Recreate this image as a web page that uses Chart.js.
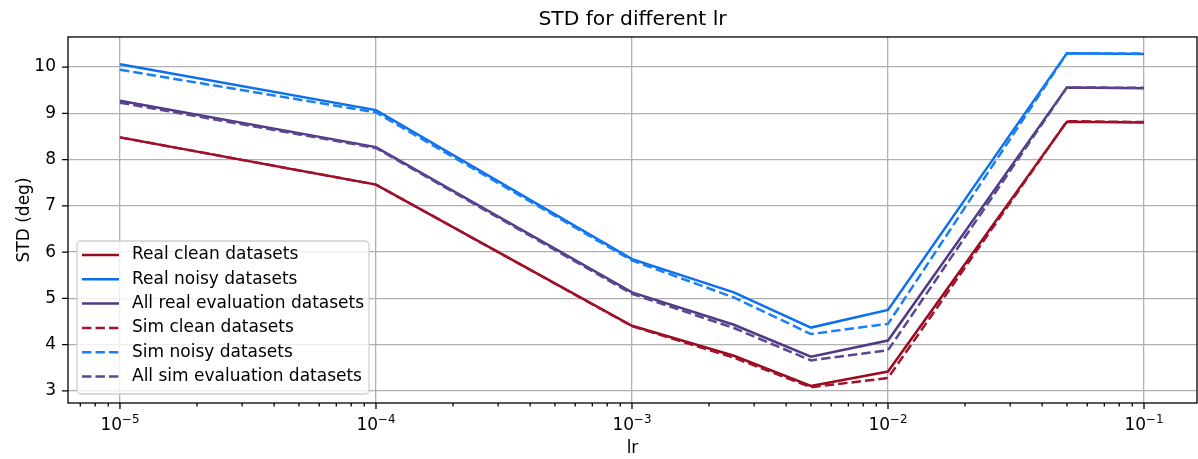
<!DOCTYPE html>
<html><head><meta charset="utf-8">
<script src="https://cdn.jsdelivr.net/npm/chart.js@4.4.1/dist/chart.umd.min.js"></script>
<style>html,body{margin:0;padding:0;background:#fff}#wrap{width:1198px;height:459px}</style>
</head><body><div id="wrap"><canvas id="c"></canvas></div>
<script>
// learning rates and STD values
const lr = [1e-5, 1e-4, 1e-3, 2.5e-3, 5e-3, 1e-2, 5e-2, 1e-1];
const realClean = [8.48, 7.46, 4.41, 3.76, 3.11, 3.42, 8.82, 8.80];
const realNoisy = [10.06, 9.07, 5.85, 5.13, 4.37, 4.75, 10.30, 10.28];
const realAll   = [9.27, 8.27, 5.13, 4.43, 3.74, 4.09, 9.56, 9.54];
const simClean  = [8.48, 7.46, 4.40, 3.72, 3.08, 3.28, 8.83, 8.81];
const simNoisy  = [9.94, 9.02, 5.82, 5.02, 4.23, 4.45, 10.30, 10.29];
const simAll    = [9.23, 8.25, 5.10, 4.36, 3.66, 3.88, 9.56, 9.55];
const seriesNames = ['Real clean datasets','Real noisy datasets','All real evaluation datasets',
  'Sim clean datasets','Sim noisy datasets','All sim evaluation datasets'];
const xMajorTicks = [1e-5, 1e-4, 1e-3, 1e-2, 1e-1];
const xMajorExp = ['\u22125','\u22124','\u22123','\u22122','\u22121'];
const yTicks = [3, 4, 5, 6, 7, 8, 9, 10];

const FONT = 'DejaVu Sans';
const FS = 17;        // 10pt
const X_MIN = Math.pow(10, -5.203), X_MAX = Math.pow(10, -0.793);
const Y_MIN = 2.74, Y_MAX = 10.65;

const colors = ['#990a1f','#0a6ff0','#503a86','#a3122c','#1a7ff5','#5b4690'];
const dashed = [false,false,false,true,true,true];
const values = [realClean, realNoisy, realAll, simClean, simNoisy, simAll];
const DASH = [9.4, 4.1];

const datasets = values.map((vals, i) => ({
  label: seriesNames[i],
  data: lr.map((x, j) => ({x, y: vals[j]})),
  borderColor: colors[i],
  backgroundColor: colors[i],
  borderWidth: 2.5,
  borderDash: dashed[i] ? DASH : [],
  pointRadius: 0,
  tension: 0,
  fill: false,
  order: 6 - i
}));

// all x tick positions: decades plus 2..9 minors
function xTickList(){
  const out = [];
  const bases = [1e-6].concat(xMajorTicks);
  bases.forEach(b => {
    for (let k = 1; k <= 9; k++) {
      const v = k === 1 ? b : k * b;
      if (v >= X_MIN && v <= X_MAX) out.push({value: v, major: k === 1});
    }
  });
  return out;
}

const majorIndex = v => xMajorTicks.findIndex(m => Math.abs(m - v) / m < 1e-9);

const framePlugin = {
  id: 'frame',
  afterDraw(chart){
    const {ctx, chartArea: a, scales: {x, y}} = chart;
    ctx.save();
    ctx.strokeStyle = '#000';
    ctx.lineWidth = 1.3;
    ctx.beginPath();
    x.ticks.forEach(t => {
      const px = x.getPixelForValue(t.value);
      const len = majorIndex(t.value) >= 0 ? 6 : 3.4;
      ctx.moveTo(px, a.bottom); ctx.lineTo(px, a.bottom + len);
    });
    y.ticks.forEach(t => {
      const py = y.getPixelForValue(t.value);
      ctx.moveTo(a.left, py); ctx.lineTo(a.left - 6, py);
    });
    ctx.stroke();
    ctx.strokeRect(a.left, a.top, a.right - a.left, a.bottom - a.top);

    // x tick labels as 10 with a raised exponent
    ctx.fillStyle = '#000';
    ctx.textBaseline = 'alphabetic';
    ctx.textAlign = 'left';
    x.ticks.forEach(t => {
      const i = majorIndex(t.value);
      if (i < 0) return;
      const px = x.getPixelForValue(t.value);
      ctx.font = FS + 'px ' + FONT;
      const wb = ctx.measureText('10').width;
      ctx.font = (FS * 0.7) + 'px ' + FONT;
      const we = ctx.measureText(xMajorExp[i]).width;
      const x0 = px - (wb + we) / 2;
      ctx.font = FS + 'px ' + FONT;
      ctx.fillText('10', x0, 430);
      ctx.font = (FS * 0.7) + 'px ' + FONT;
      ctx.fillText(xMajorExp[i], x0 + wb, 423);
    });

    // legend in the lower left corner of the axes
    const bx = a.left + 9, by = 241, bw = 292, bh = 153;
    ctx.fillStyle = 'rgba(255,255,255,0.8)';
    ctx.strokeStyle = '#d0d0d0';
    ctx.lineWidth = 1.3;
    ctx.beginPath();
    ctx.roundRect(bx, by, bw, bh, 4);
    ctx.fill(); ctx.stroke();
    ctx.font = FS + 'px ' + FONT;
    ctx.textBaseline = 'middle';
    chart.data.datasets.forEach((ds, i) => {
      const ry = 255 + i * 24.3;
      ctx.strokeStyle = ds.borderColor;
      ctx.lineWidth = 2.5;
      ctx.setLineDash(ds.borderDash);
      ctx.beginPath();
      ctx.moveTo(bx + 5, ry); ctx.lineTo(bx + 42, ry);
      ctx.stroke();
      ctx.setLineDash([]);
      ctx.fillStyle = '#000';
      ctx.fillText(ds.label, bx + 55, ry);
    });
    ctx.restore();
  }
};

new Chart(document.getElementById('c'), {
  type: 'line',
  data: { datasets },
  options: {
    responsive: true,
    maintainAspectRatio: false,
    animation: false,
    layout: { padding: { left: 0, right: 1, top: 0, bottom: 0 } },
    plugins: {
      legend: { display: false },
      tooltip: { enabled: false },
      title: {
        display: true,
        fullSize: false,
        text: 'STD for different lr',
        color: '#000',
        font: { family: FONT, size: 20.3, weight: 'normal' },
        padding: { top: 8, bottom: 4.6 }
      }
    },
    scales: {
      x: {
        type: 'logarithmic',
        min: X_MIN, max: X_MAX,
        afterBuildTicks: s => { s.ticks = xTickList(); },
        afterFit: s => { s.height = 56; },
        grid: {
          drawTicks: false,
          color: c => (c.tick && majorIndex(c.tick.value) >= 0) ? '#b0b0b0' : 'rgba(0,0,0,0)',
          lineWidth: 1.3
        },
        border: { display: false },
        ticks: { display: false, autoSkip: false, maxRotation: 0 },
        title: { display: true, text: 'lr', color: '#000', font: { family: FONT, size: FS }, padding: { top: 0, bottom: 0 } }
      },
      y: {
        min: Y_MIN, max: Y_MAX,
        afterBuildTicks: s => { s.ticks = yTicks.map(v => ({value: v})); },
        afterFit: s => { s.width = 68; },
        grid: { drawTicks: false, color: '#b0b0b0', lineWidth: 1.3 },
        border: { display: false },
        ticks: { padding: 12, color: '#000', font: { family: FONT, size: FS } },
        title: { display: true, text: 'STD (deg)', color: '#000', font: { family: FONT, size: FS }, padding: { top: 14, bottom: 0 } }
      }
    }
  },
  plugins: [framePlugin]
});
</script>
</body></html>
